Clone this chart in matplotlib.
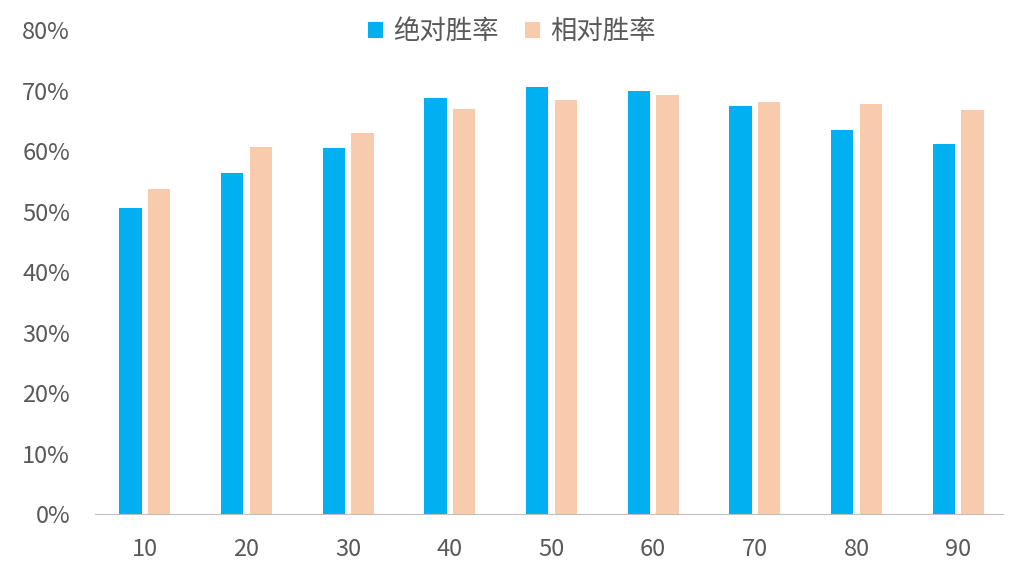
import numpy as np
import matplotlib.pyplot as plt
from matplotlib.ticker import PercentFormatter

plt.rcParams['font.family'] = ['Noto Sans CJK SC', 'DejaVu Sans']

categories = ['10', '20', '30', '40', '50', '60', '70', '80', '90']
abs_win = [0.506, 0.564, 0.605, 0.688, 0.706, 0.699, 0.674, 0.635, 0.612]
rel_win = [0.537, 0.607, 0.630, 0.669, 0.684, 0.693, 0.681, 0.678, 0.668]

fig = plt.figure(figsize=(10.14, 5.70), dpi=100)
ax = fig.add_axes([0.0937, 0.0982, 0.8953, 0.8491])

x = np.arange(len(categories))
w = 0.22
ax.bar(x - 0.14, abs_win, w, color='#00B0F0', label='绝对胜率')
ax.bar(x + 0.14, rel_win, w, color='#F8CBAD', label='相对胜率')

ax.set_xlim(-0.49, 8.44)
ax.set_ylim(0, 0.8)
ax.set_yticks(np.arange(0, 0.81, 0.1))
ax.yaxis.set_major_formatter(PercentFormatter(1.0, decimals=0))
ax.set_xticks(x)
ax.set_xticklabels(categories)

for s in ['top', 'right', 'left']:
    ax.spines[s].set_visible(False)
ax.spines['bottom'].set_color('#BFBFBF')
ax.tick_params(axis='both', length=0, labelsize=17, colors='#595959')
ax.tick_params(axis='x', pad=17)
ax.tick_params(axis='y', pad=18)

fig.legend(loc='upper center', bbox_to_anchor=(0.505, 1.01), ncol=2, frameon=False,
           fontsize=19, handlelength=0.55, handleheight=0.55, handletextpad=0.4,
           columnspacing=1.0, labelcolor='#595959')

fig.savefig('out.png')
